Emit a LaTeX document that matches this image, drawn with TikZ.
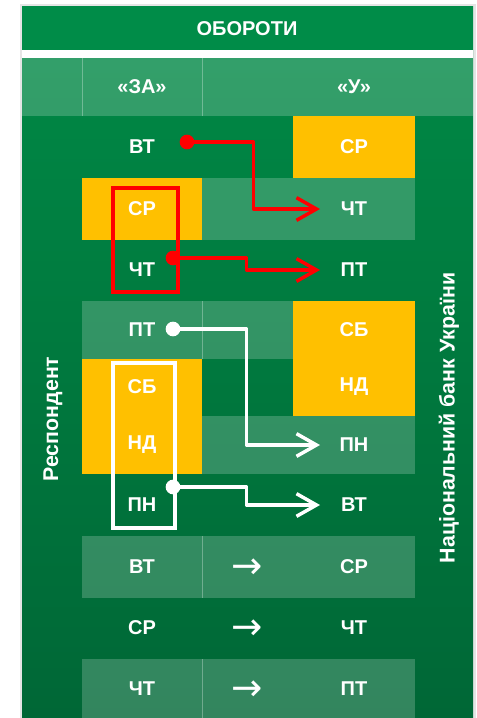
\documentclass[tikz,border=0pt]{standalone}
\usepackage{fontspec}
\setmainfont{Liberation Sans}
\newfontfamily\arrowfont{DejaVu Sans}
\usetikzlibrary{arrows.meta,calc}

\definecolor{nbugreen}{HTML}{008C48}
\definecolor{nbutop}{HTML}{008A46}
\definecolor{nbubottom}{HTML}{006736}
\definecolor{nbuyellow}{HTML}{FFC000}
\definecolor{nbured}{HTML}{FF0000}
\newcommand{\dayarrow}{{\arrowfont\mdseries\fontsize{28}{28}\selectfont →}}

\begin{document}
\begin{tikzpicture}[x=0.75pt, y=-0.75pt,
  every node/.style={font=\bfseries\fontsize{15}{18}\selectfont, text=white},
  lightcell/.style={fill=white, fill opacity=0.2},
  yellowcell/.style={fill=nbuyellow},
  cellsep/.style={draw=white, draw opacity=0.3, line width=0.6pt},
  link/.style={line width=2.6pt, line cap=round, line join=round,
    -{Straight Barb[length=15pt,width=17pt]}},
  dayframe/.style={line width=3pt}]
  \useasboundingbox (0,0) rectangle (477,718);
  % frame
  \fill[gray!20] (20,4) rectangle (476,718);
  \shade[top color=nbutop, bottom color=nbubottom] (22,6) rectangle (473,718);
  \fill[nbugreen] (22,6) rectangle (473,50);
  \fill[white] (22,50) rectangle (473,58);
  \fill[lightcell] (22,58) rectangle (473,116);
  \draw[cellsep] (82,58) -- (82,116) (202,58) -- (202,116);
  \node (title) at (247,29) {ОБОРОТИ};
  \node (za) at (142,87) {«ЗА»};
  \node (u) at (354,87) {«У»};
  % cells
  \fill[lightcell] (202,178) rectangle (415,240);
  \fill[lightcell] (82,301) rectangle (293,359);
  \fill[lightcell] (202,416) rectangle (415,474);
  \fill[lightcell] (82,536) rectangle (415,598);
  \fill[lightcell] (82,659) rectangle (415,718);
  \draw[cellsep] (202,301) -- (202,359) (202,536) -- (202,598) (202,659) -- (202,718);
  \fill[yellowcell] (293,116) rectangle (415,178);
  \fill[yellowcell] (82,178) rectangle (202,240);
  \fill[yellowcell] (293,301) rectangle (415,416);
  \fill[yellowcell] (82,359) rectangle (202,474);
  % days
  \node (zVT) at (142,147) {ВТ};
  \node (uSR) at (354,147) {СР};
  \node (zSR) at (142,209) {СР};
  \node (uCT) at (354,209) {ЧТ};
  \node (zCT) at (142,270) {ЧТ};
  \node (uPT) at (354,270) {ПТ};
  \node (zPT) at (142,330) {ПТ};
  \node (uSB) at (354,330) {СБ};
  \node (zSB) at (142,387) {СБ};
  \node (uND) at (354,387) {НД};
  \node (zND) at (142,445) {НД};
  \node (uPN) at (354,445) {ПН};
  \node (zPN) at (142,505) {ПН};
  \node (uVT) at (354,505) {ВТ};
  \node (zVT2) at (142,567) {ВТ};
  \node (aVT2) at (247,569) {\dayarrow};
  \node (uSR2) at (354,567) {СР};
  \node (zSR2) at (142,628) {СР};
  \node (aSR2) at (247,630) {\dayarrow};
  \node (uCT2) at (354,628) {ЧТ};
  \node (zCT2) at (142,689) {ЧТ};
  \node (aCT2) at (247,691) {\dayarrow};
  \node (uPT2) at (354,689) {ПТ};
  \node[rotate=90, font=\bfseries\fontsize{16}{18}\selectfont] (resp) at (53,419) {Респондент};
  \node[rotate=90, font=\bfseries\fontsize{16}{18}\selectfont] (nbu) at (449,418) {Національний банк України};
  % red links
  \coordinate (tip) at (320,0);
  \coordinate (r1) at (187,142);
  \coordinate (r2) at (173,258);
  \draw[dayframe, nbured] ($(zSR)+(-29,-21)$) rectangle ($(zCT)+(36,22)$);
  \draw[link, nbured] (r1) -| ($(r1)!.5!(tip |- uCT)$) |- (tip |- uCT);
  \draw[link, nbured] (r2) -| ($(r2)!.5!(tip |- uPT)$) |- (tip |- uPT);
  \fill[nbured] (r1) circle (5.5pt) (r2) circle (5.5pt);
  % white links
  \coordinate (w1) at (173,329);
  \coordinate (w2) at (173,487);
  \draw[dayframe, white] ($(zSB)+(-29,-24)$) rectangle ($(zPN)+(33,23)$);
  \draw[link, white] (w1) -| ($(w1)!.5!(tip |- uPN)$) |- (tip |- uPN);
  \draw[link, white] (w2) -| ($(w2)!.5!(tip |- uVT)$) |- (tip |- uVT);
  \fill[white] (w1) circle (5.5pt) (w2) circle (5.5pt);
\end{tikzpicture}
\end{document}
